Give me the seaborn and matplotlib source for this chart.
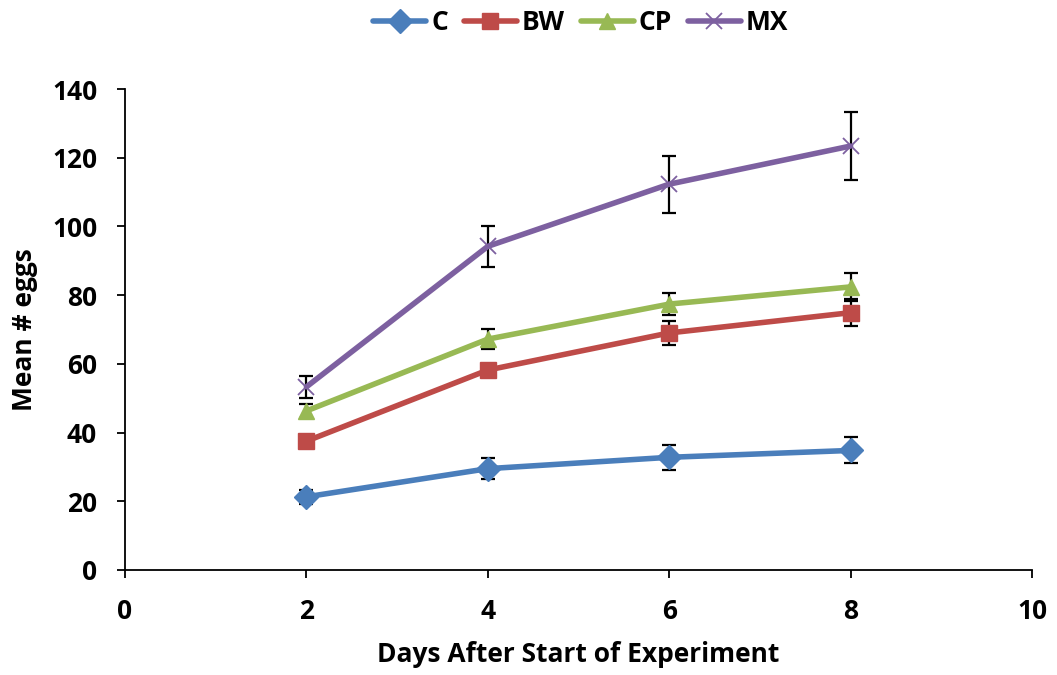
import matplotlib
matplotlib.use("Agg")
import matplotlib.pyplot as plt
import seaborn as sns
import pandas as pd

days = [2, 4, 6, 8]
series = ["C", "BW", "CP", "MX"]
c_mean = [21.3, 29.5, 32.8, 34.8]
c_err = [2.0, 3.0, 3.6, 3.8]
bw_mean = [37.5, 58.2, 69.0, 74.9]
bw_err = [1.5, 1.5, 3.6, 4.0]
cp_mean = [46.3, 67.2, 77.4, 82.4]
cp_err = [2.0, 3.0, 3.2, 4.0]
mx_mean = [53.3, 94.2, 112.3, 123.4]
mx_err = [3.2, 6.0, 8.3, 9.9]

colors = {"C": "#4A7EBB", "BW": "#BE4B48", "CP": "#98B954", "MX": "#7D60A0"}
markers = {"C": "D", "BW": "s", "CP": "^", "MX": "x"}
msizes = {"C": 11, "BW": 15, "CP": 15, "MX": 15}

means = {"C": c_mean, "BW": bw_mean, "CP": cp_mean, "MX": mx_mean}
errs = {"C": c_err, "BW": bw_err, "CP": cp_err, "MX": mx_err}

rows = []
for s in series:
    for d, m, e in zip(days, means[s], errs[s]):
        rows.append({"day": d, "eggs": m, "err": e, "group": s})
df = pd.DataFrame(rows)

sns.set_theme(style="white")
plt.rcParams["font.family"] = ["Open Sans", "DejaVu Sans"]
plt.rcParams["font.weight"] = "bold"
plt.rcParams["text.color"] = "black"
plt.rcParams["axes.labelcolor"] = "black"

FS = 19

fig = plt.figure(figsize=(10.57, 6.75), dpi=100)
ax = fig.add_axes([125 / 1057, 1 - 570 / 675, (1032 - 125) / 1057, (570 - 89) / 675])

for s in series:
    sub = df[df.group == s]
    ax.errorbar(sub.day, sub.eggs, yerr=sub.err, fmt="none", ecolor="black",
                elinewidth=1.6, capsize=4.8, capthick=1.6, zorder=1)

for s in series:
    sub = df[df.group == s]
    sns.lineplot(data=sub, x="day", y="eggs", color=colors[s], marker=markers[s],
                 linewidth=4, markersize=msizes[s],
                 markeredgewidth=1.0 if s != "MX" else 1.3,
                 markeredgecolor=colors[s], ax=ax, label=s, zorder=3)

ax.set_xlim(0, 10)
ax.set_ylim(0, 140)
ax.set_xticks([0, 2, 4, 6, 8, 10])
ax.set_yticks(range(0, 141, 20))
ax.tick_params(axis="both", labelsize=FS, direction="out", length=6, width=1.3,
               bottom=True, left=True, colors="black", labelcolor="black")
ax.tick_params(axis="y", pad=14)
ax.tick_params(axis="x", pad=14)
for lab in ax.get_xticklabels() + ax.get_yticklabels():
    lab.set_fontweight("bold")
ax.set_xlabel("Days After Start of Experiment", fontsize=FS, fontweight="bold", labelpad=12)
ax.set_ylabel("Mean # eggs", fontsize=FS, fontweight="bold", labelpad=10)
sns.despine(ax=ax)
for sp in ["left", "bottom"]:
    ax.spines[sp].set_color("black")
    ax.spines[sp].set_linewidth(1.3)

handles, labels = ax.get_legend_handles_labels()
for h in handles:
    h.set_markersize(12)
ax.legend(handles, labels, loc="center", bbox_to_anchor=(581 / 1057, 1 - 23 / 675),
          bbox_transform=fig.transFigure,
          ncol=4, frameon=False, prop={"weight": "bold", "size": FS},
          handlelength=2.0, columnspacing=0.6, handletextpad=0.2, borderpad=0)

fig.savefig("out.png", dpi=100)
